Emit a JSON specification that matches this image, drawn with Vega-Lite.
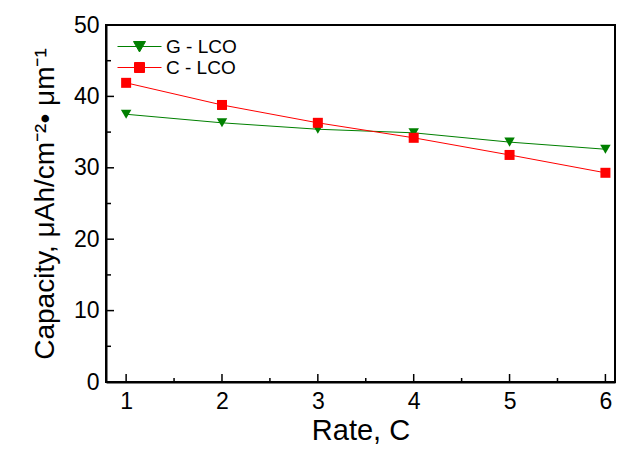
{
  "$schema": "https://vega.github.io/schema/vega-lite/v6.json",
  "autosize": "none",
  "padding": {"left": 106, "top": 25, "right": 29, "bottom": 84},
  "width": 509,
  "height": 357,
  "background": "white",
  "config": {
    "view": {"stroke": "black", "strokeWidth": 2},
    "font": "Liberation Sans",
    "axis": {"grid": false, "ticks": false, "zindex": 1, "domainColor": "black", "domainWidth": 2, "labelColor": "black", "titleColor": "black", "labelFont": "Liberation Sans", "titleFont": "Liberation Sans", "titleFontWeight": "normal", "labelFontSize": 23, "titleFontSize": 28, "labelFlush": false},
    "axisX": {"titleFontSize": 29, "labelPadding": 8, "titlePadding": 3},
    "axisY": {"labelPadding": 7, "titlePadding": 14}
  },
  "layer": [
    {
      "data": {
        "values": [
          {"rate": 1, "cap": 37.5, "series": "G - LCO"},
          {"rate": 2, "cap": 36.3, "series": "G - LCO"},
          {"rate": 3, "cap": 35.4, "series": "G - LCO"},
          {"rate": 4, "cap": 34.9, "series": "G - LCO"},
          {"rate": 5, "cap": 33.6, "series": "G - LCO"},
          {"rate": 6, "cap": 32.6, "series": "G - LCO"},
          {"rate": 1, "cap": 41.9, "series": "C - LCO"},
          {"rate": 2, "cap": 38.8, "series": "C - LCO"},
          {"rate": 3, "cap": 36.3, "series": "C - LCO"},
          {"rate": 4, "cap": 34.2, "series": "C - LCO"},
          {"rate": 5, "cap": 31.8, "series": "C - LCO"},
          {"rate": 6, "cap": 29.3, "series": "C - LCO"}
        ]
      },
      "encoding": {
        "x": {
          "field": "rate", "type": "quantitative",
          "scale": {"domain": [0.79, 6.1], "nice": false, "zero": false},
          "axis": {"title": "Rate, C", "values": [1, 2, 3, 4, 5, 6], "format": "d"}
        },
        "y": {
          "field": "cap", "type": "quantitative",
          "scale": {"domain": [0, 50], "nice": false},
          "axis": {"title": "Capacity, μAh/cm⁻²• μm⁻¹", "values": [0, 10, 20, 30, 40, 50], "format": "d"}
        },
        "color": {
          "field": "series", "type": "nominal",
          "scale": {"domain": ["G - LCO", "C - LCO"], "range": ["#008000", "#ff0000"]}
        }
      },
      "layer": [
        {
          "mark": {"type": "line", "strokeWidth": 1},
          "encoding": {
            "color": {
              "field": "series", "type": "nominal",
              "scale": {"domain": ["G - LCO", "C - LCO"], "range": ["#008000", "#ff0000"]},
              "legend": {
                "title": null,
                "orient": "none",
                "legendX": 23,
                "legendY": 11,
                "labelFontSize": 19,
                "labelFont": "Liberation Sans",
                "labelColor": "black",
                "symbolSize": 400,
                "symbolStrokeWidth": 1,
                "rowPadding": 0,
                "labelOffset": 16,
                "padding": 0,
                "encode": {
                  "symbols": {
                    "update": {
                      "shape": {"signal": "datum.value === 'G - LCO' ? 'M-2.2,0H2.2M-0.6,-0.5H0.6L0,0.55Z' : 'M-2.2,0H2.2M-0.5,-0.5H0.5V0.5H-0.5Z'"},
                      "fill": {"signal": "datum.value === 'G - LCO' ? '#008000' : '#ff0000'"},
                      "fillOpacity": {"value": 1}
                    }
                  }
                }
              }
            }
          }
        },
        {
          "transform": [{"filter": "datum.series === 'G - LCO'"}],
          "mark": {"type": "point", "filled": true, "opacity": 1, "size": 110, "shape": "triangle-down"}
        },
        {
          "transform": [{"filter": "datum.series === 'C - LCO'"}],
          "mark": {"type": "point", "filled": true, "opacity": 1, "size": 100, "shape": "square"}
        }
      ]
    },
    {
      "data": {
        "values": [
          {"v": 1, "kind": "major"}, {"v": 1.5, "kind": "minor"}, {"v": 2, "kind": "major"}, {"v": 2.5, "kind": "minor"},
          {"v": 3, "kind": "major"}, {"v": 3.5, "kind": "minor"}, {"v": 4, "kind": "major"}, {"v": 4.5, "kind": "minor"},
          {"v": 5, "kind": "major"}, {"v": 5.5, "kind": "minor"}, {"v": 6, "kind": "major"}
        ]
      },
      "encoding": {
        "x": {"field": "v", "type": "quantitative", "scale": {"domain": [0.79, 6.1], "nice": false, "zero": false}, "axis": {"title": "Rate, C", "values": [1, 2, 3, 4, 5, 6], "format": "d"}},
        "y": {"datum": 0, "type": "quantitative", "scale": {"domain": [0, 50], "nice": false}, "axis": {"title": "Capacity, μAh/cm⁻²• μm⁻¹", "values": [0, 10, 20, 30, 40, 50], "format": "d"}}
      },
      "layer": [
        {
          "transform": [{"filter": "datum.kind === 'major'"}],
          "mark": {"type": "tick", "orient": "vertical", "color": "black", "size": 8, "thickness": 1.5, "yOffset": -4, "opacity": 1}
        },
        {
          "transform": [{"filter": "datum.kind === 'minor'"}],
          "mark": {"type": "tick", "orient": "vertical", "color": "black", "size": 4, "thickness": 1.5, "yOffset": -2, "opacity": 1}
        }
      ]
    },
    {
      "data": {
        "values": [
          {"v": 0, "kind": "major"}, {"v": 5, "kind": "minor"}, {"v": 10, "kind": "major"}, {"v": 15, "kind": "minor"},
          {"v": 20, "kind": "major"}, {"v": 25, "kind": "minor"}, {"v": 30, "kind": "major"}, {"v": 35, "kind": "minor"},
          {"v": 40, "kind": "major"}, {"v": 45, "kind": "minor"}, {"v": 50, "kind": "major"}
        ]
      },
      "encoding": {
        "y": {"field": "v", "type": "quantitative", "scale": {"domain": [0, 50], "nice": false}, "axis": {"title": "Capacity, μAh/cm⁻²• μm⁻¹", "values": [0, 10, 20, 30, 40, 50], "format": "d"}},
        "x": {"datum": 0.79, "type": "quantitative", "scale": {"domain": [0.79, 6.1], "nice": false, "zero": false}, "axis": {"title": "Rate, C", "values": [1, 2, 3, 4, 5, 6], "format": "d"}}
      },
      "layer": [
        {
          "transform": [{"filter": "datum.kind === 'major'"}],
          "mark": {"type": "tick", "orient": "horizontal", "color": "black", "size": 8, "thickness": 1.5, "xOffset": 4, "opacity": 1}
        },
        {
          "transform": [{"filter": "datum.kind === 'minor'"}],
          "mark": {"type": "tick", "orient": "horizontal", "color": "black", "size": 5, "thickness": 1.5, "xOffset": 2.5, "opacity": 1}
        }
      ]
    }
  ]
}
